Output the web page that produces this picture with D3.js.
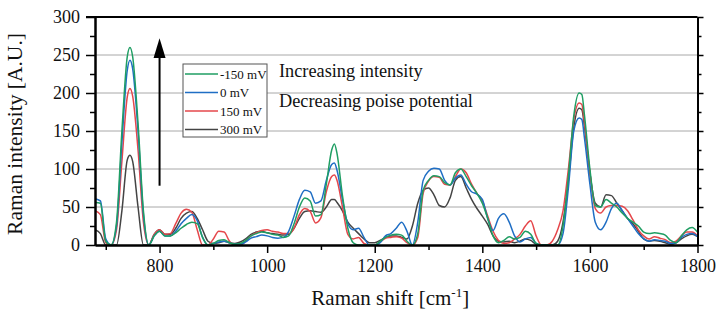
<!DOCTYPE html>
<html>
<head>
<meta charset="utf-8">
<script src="https://cdn.jsdelivr.net/npm/d3@7"></script>
<style>
body { margin: 0; background: #fff; }
svg { font-family: "Liberation Serif", "DejaVu Serif", serif; }
</style>
</head>
<body>
<svg id="drawing_region"></svg>
<script>
// Raman shift (cm-1) where the spectra were read
const shift = [
    680,690,700,710,720,730,740,745,750,760,770,780,790,
    800,810,820,830,840,850,860,870,880,890,
    900,910,920,930,940,950,960,970,980,990,
    1000,1010,1020,1030,1040,1050,1060,1070,1080,1090,
    1100,1110,1120,1125,1130,1140,1150,1160,1170,1180,1190,
    1200,1210,1220,1230,1240,1250,1260,1270,1280,1290,
    1300,1310,1320,1330,1340,1350,1360,1370,1380,1390,
    1400,1410,1420,1430,1440,1450,1460,1470,1480,1490,
    1500,1510,1520,1530,1540,1550,1560,1570,1580,1585,1590,
    1600,1610,1620,1630,1640,1650,1660,1670,1680,1690,
    1700,1710,1720,1730,1740,1750,1760,1770,1780,1790,1800
];

const int_m150 = [
    56,55,5,0,30,150,248,260,248,160,45,0,12,
    18,12,12,16,22,27,30,28,10,0,
    2,6,7,3,1,2,6,12,15,17,
    16,14,13,10,12,28,50,62,58,38,
    40,80,125,133,120,65,22,3,0,0,0,
    0,5,10,13,14,13,5,0,15,72,
    85,91,90,82,79,95,100,90,78,68,
    55,35,12,3,6,11,8,10,18,14,
    2,0,0,0,0,25,90,170,200,198,170,
    100,52,50,60,55,50,42,35,30,25,
    17,15,16,15,13,6,3,12,20,23,17
];

const int_0 = [
    61,58,8,0,25,135,230,243,232,150,40,0,12,
    18,12,12,18,28,35,40,32,10,0,
    2,4,5,3,1,1,4,9,11,13,
    12,10,9,10,18,38,60,72,70,55,
    58,85,106,108,98,60,28,20,22,10,0,
    0,3,12,15,22,30,18,0,30,85,
    97,101,100,85,79,88,92,80,70,67,
    60,35,19,35,41,30,12,4,8,10,
    2,0,0,0,0,15,75,150,167,165,140,
    80,30,20,30,48,55,45,35,25,15,
    8,5,7,6,5,2,3,10,14,15,11
];

const int_150 = [
    45,40,3,0,20,110,195,206,196,125,30,0,14,
    20,14,15,28,42,47,43,20,0,0,
    8,18,17,5,0,0,5,12,16,19,
    20,18,17,15,15,22,40,48,44,29,
    36,70,90,92,85,50,14,8,10,2,0,
    0,4,9,10,11,9,3,0,10,68,
    84,90,89,80,79,90,100,95,80,68,
    58,38,18,6,2,3,8,14,25,32,
    12,0,0,5,20,45,100,165,187,185,160,
    95,48,42,50,52,52,51,45,33,20,
    12,8,11,9,7,3,5,12,17,17,12
];

const int_300 = [
    20,15,0,0,0,45,112,118,110,50,0,0,14,
    20,14,14,22,35,42,44,35,20,5,
    2,3,5,3,2,4,8,14,17,18,
    16,15,14,13,14,22,35,44,45,44,
    43,50,60,60,56,45,30,22,15,8,3,
    3,6,10,12,12,10,8,25,55,72,
    75,66,52,50,62,85,90,75,60,48,
    38,27,12,5,4,5,3,5,8,6,
    1,0,0,0,5,30,85,155,180,178,155,
    95,55,50,66,65,55,45,35,28,18,
    8,5,6,5,3,1,3,8,12,14,11
];

const labels = ['-150 mV', '0 mV', '150 mV', '300 mV'];
const colors = ['#1f9e63', '#1f6ec4', '#e5474b', '#444444'];

const x_major = [800, 1000, 1200, 1400, 1600, 1800];
const x_minor = [700, 900, 1100, 1300, 1500, 1700];
const y_major = [0, 50, 100, 150, 200, 250, 300];
const y_minor = [25, 75, 125, 175, 225, 275];

class SpectraChart {

    constructor( config, data ) {
        this.config = {
            parent: config.parent,
            width: config.width || 722,
            height: config.height || 319,
            margin: config.margin || {top:17, right:24.5, bottom:74, left:95}
        }
        this.data = data;
        this.init();
    }

    init() {
        let self = this;

        self.svg = d3.select( self.config.parent )
            .attr('width', self.config.width)
            .attr('height', self.config.height);

        self.chart = self.svg.append('g')
            .attr('transform', `translate(${self.config.margin.left}, ${self.config.margin.top})`);

        self.inner_width = self.config.width - self.config.margin.left - self.config.margin.right;
        self.inner_height = self.config.height - self.config.margin.top - self.config.margin.bottom;

        self.xscale = d3.scaleLinear()
            .domain([680, 1800])
            .range([0, self.inner_width]);

        self.yscale = d3.scaleLinear()
            .domain([0, 300])
            .range([self.inner_height, 0]);
    }

    update() {
        let self = this;
        self.render();
    }

    render() {
        let self = this;

        // grid
        self.chart.append('g')
            .selectAll('line')
            .data( y_major.filter(d => d > 0 && d < 300) )
            .join('line')
            .attr('x1', 0)
            .attr('x2', self.inner_width)
            .attr('y1', d => self.yscale(d))
            .attr('y2', d => self.yscale(d))
            .attr('stroke', '#a8a8a8')
            .attr('stroke-width', 1);

        self.chart.append('clipPath')
            .attr('id', 'clip')
            .append('rect')
            .attr('width', self.inner_width)
            .attr('height', self.inner_height);

        const line = d3.line()
            .x( d => self.xscale(d.x) )
            .y( d => self.yscale(d.y) )
            .curve( d3.curveMonotoneX );

        // draw back to front so -150 mV ends on top
        const order = [3, 2, 1, 0];
        self.chart.append('g')
            .attr('clip-path', 'url(#clip)')
            .selectAll('path')
            .data( order.map(i => self.data[i]) )
            .join('path')
            .attr('d', d => line(d.values))
            .attr('fill', 'none')
            .attr('stroke', d => d.color)
            .attr('stroke-width', 1.5);

        // axes
        const fmt = d3.format('d');
        const bottom = self.chart.append('g')
            .attr('transform', `translate(0, ${self.inner_height})`);
        bottom.call( d3.axisBottom(self.xscale).tickValues(x_major).tickSize(8).tickSizeOuter(0).tickPadding(6).tickFormat(fmt) );
        bottom.append('g').call( d3.axisBottom(self.xscale).tickValues(x_minor).tickSize(5).tickSizeOuter(0).tickFormat('') );

        const left = self.chart.append('g');
        left.call( d3.axisLeft(self.yscale).tickValues(y_major).tickSize(9).tickSizeOuter(0).tickPadding(6).tickFormat(fmt) );
        left.append('g').call( d3.axisLeft(self.yscale).tickValues(y_minor).tickSize(5).tickSizeOuter(0).tickFormat('') );

        const right = self.chart.append('g')
            .attr('transform', `translate(${self.inner_width}, 0)`);
        right.call( d3.axisRight(self.yscale).tickValues(y_major).tickSize(6).tickSizeOuter(0).tickFormat('') );
        right.append('g').call( d3.axisRight(self.yscale).tickValues(y_minor).tickSize(4).tickSizeOuter(0).tickFormat('') );

        self.chart.append('line')
            .attr('x1', -9).attr('x2', self.inner_width)
            .attr('y1', 0).attr('y2', 0)
            .attr('stroke', '#000')
            .attr('stroke-width', 2);

        self.chart.selectAll('.domain').attr('stroke-width', 2);
        self.chart.selectAll('.tick line').attr('stroke-width', 1.5);
        self.chart.selectAll('.tick text')
            .attr('font-size', 18)
            .attr('font-family', '"Liberation Serif", serif')
            .attr('fill', '#111');

        // axis titles
        self.svg.append('text')
            .attr('x', self.config.margin.left + self.inner_width / 2 - 6)
            .attr('y', 305)
            .attr('text-anchor', 'middle')
            .attr('font-size', 21)
            .attr('fill', '#111')
            .html('Raman shift [cm<tspan dy="-8" font-size="13">-1</tspan><tspan dy="8">]</tspan>');

        self.svg.append('text')
            .attr('transform', `translate(22, ${self.config.margin.top + self.inner_height / 2 + 3}) rotate(-90)`)
            .attr('text-anchor', 'middle')
            .attr('font-size', 21.5)
            .attr('fill', '#111')
            .text('Raman intensity [A.U.]');

        // arrow
        const ax = self.xscale(800);
        self.chart.append('line')
            .attr('x1', ax).attr('x2', ax)
            .attr('y1', self.yscale(78)).attr('y2', self.yscale(250))
            .attr('stroke', '#000')
            .attr('stroke-width', 2);
        self.chart.append('path')
            .attr('d', `M${ax},${self.yscale(272)} L${ax - 6},${self.yscale(246)} L${ax + 6},${self.yscale(246)} Z`)
            .attr('fill', '#000');

        // legend
        const lg = self.svg.append('g')
            .attr('transform', 'translate(183, 64)');
        lg.append('rect')
            .attr('width', 84)
            .attr('height', 73)
            .attr('fill', '#fff')
            .attr('stroke', '#555')
            .attr('stroke-width', 1);
        const item = lg.selectAll('.item')
            .data( self.data )
            .join('g')
            .attr('class', 'item')
            .attr('transform', (d, i) => `translate(0, ${10 + i * 18.5})`);
        item.append('line')
            .attr('x1', 2).attr('x2', 35)
            .attr('stroke', d => d.color)
            .attr('stroke-width', 1.5);
        item.append('text')
            .attr('x', 37)
            .attr('dy', '0.35em')
            .attr('font-size', 13)
            .attr('fill', '#111')
            .text(d => d.label);

        // annotations
        self.svg.append('text')
            .attr('x', 279).attr('y', 77)
            .attr('font-size', 18.3)
            .attr('fill', '#111')
            .text('Increasing intensity');
        self.svg.append('text')
            .attr('x', 279).attr('y', 107)
            .attr('font-size', 18.3)
            .attr('fill', '#111')
            .text('Decreasing poise potential');
    }
}

const series = [int_m150, int_0, int_150, int_300].map( (vals, i) => ({
    label: labels[i],
    color: colors[i],
    values: shift.map( (s, j) => ({ x: s, y: vals[j] }) )
}));

const config = {
    parent: '#drawing_region',
    width: 722,
    height: 319,
    margin: {top:17, right:24.5, bottom:74, left:95}
};

const chart = new SpectraChart( config, series );
chart.update();
</script>
</body>
</html>
